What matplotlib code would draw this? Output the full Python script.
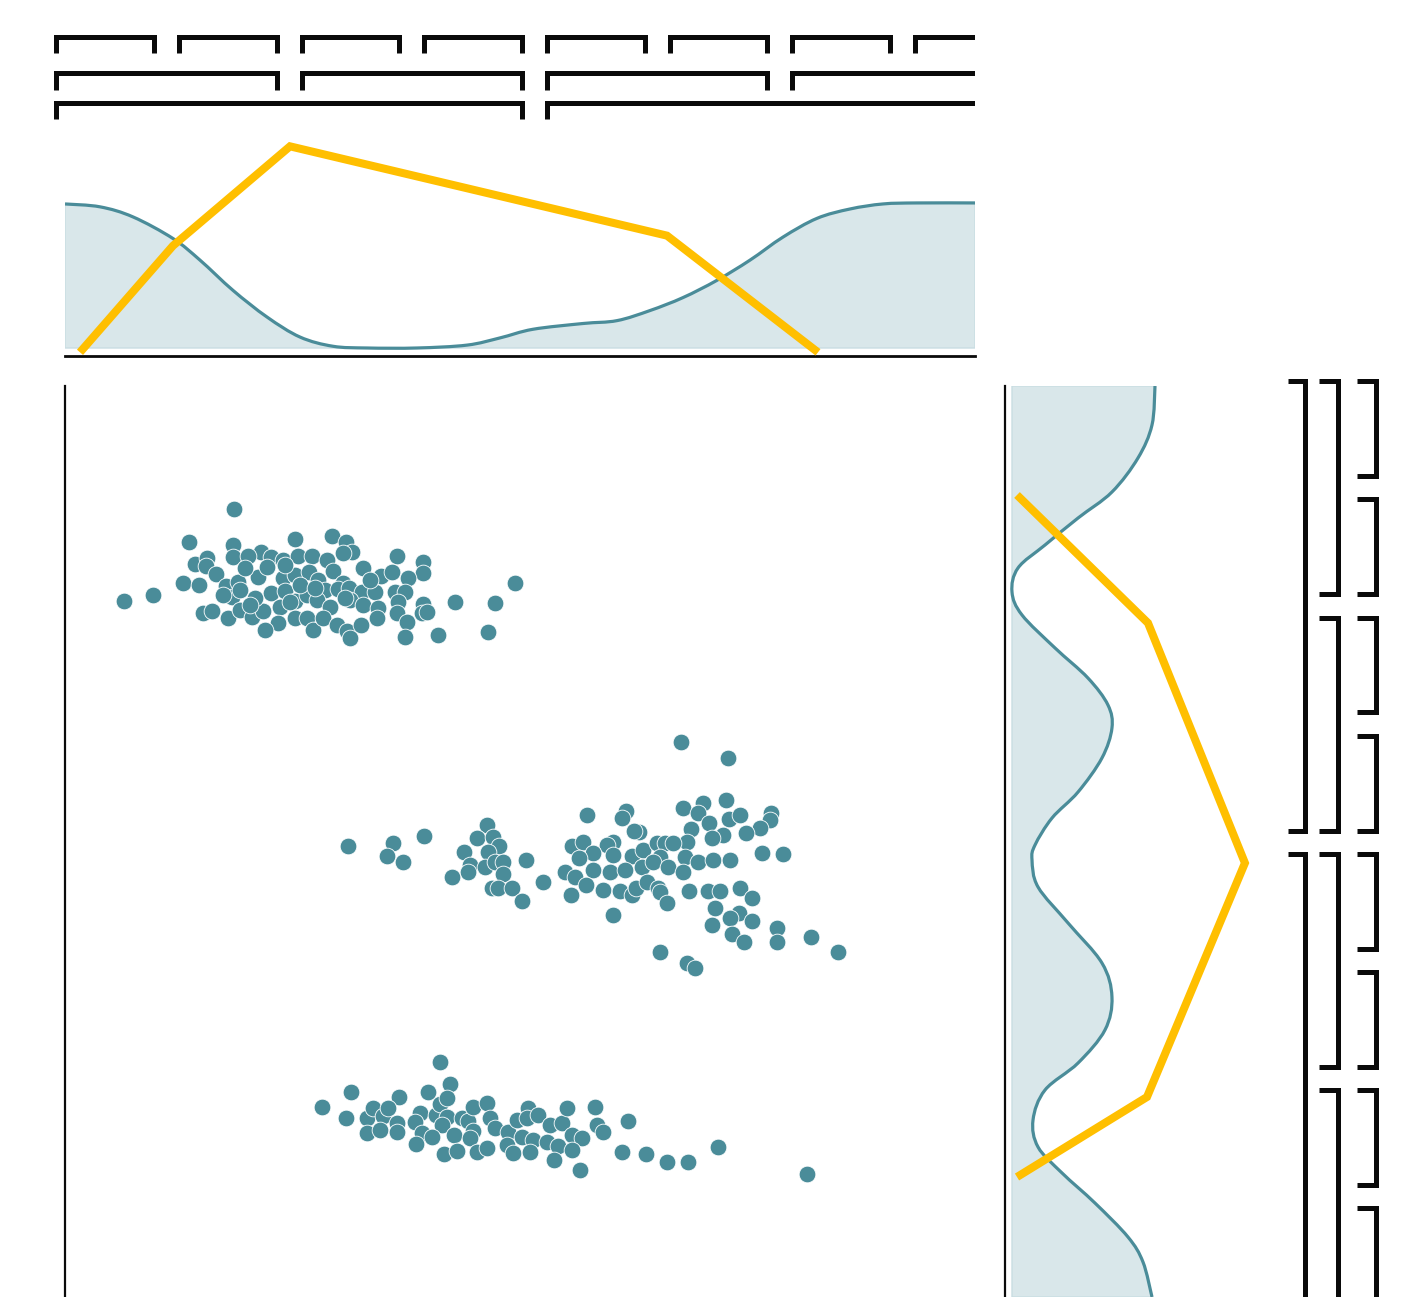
import matplotlib
matplotlib.use("Agg")
import matplotlib.pyplot as plt
from matplotlib.path import Path
from matplotlib.patches import PathPatch

# ---------------- data ----------------
# scatter clusters (x, y in data units)
cluster_a_x = [16.9, 12.4, 23.0, 26.7, 28.1, 28.7, 16.8, 16.8, 19.6, 18.3, 20.6, 21.8, 23.3, 24.7, 26.2, 27.8,
               33.2, 35.8, 35.8, 13.0, 14.2, 14.1, 15.1, 29.8, 31.6, 32.7, 34.3, 45.0, 11.8, 13.4, 8.8, 5.9,
               16.1, 17.3, 19.3, 20.2, 18.0, 21.8, 23.0, 24.4, 25.3, 26.8, 27.8, 26.0, 27.3, 28.4, 29.7, 31.0,
               33.0, 34.0, 16.7, 15.8, 20.6, 22.0, 23.0, 24.2, 25.2, 26.5, 28.5, 29.8, 31.3, 33.3, 35.8, 39.0,
               43.0, 13.8, 14.7, 16.3, 17.5, 18.7, 19.8, 21.5, 22.5, 21.3, 20.0, 23.0, 24.2, 24.8, 25.8, 27.2,
               28.2, 28.5, 29.6, 31.2, 33.2, 34.2, 35.7, 36.2, 34.0, 37.3, 42.3,
               17.5, 19.0, 23.5, 25.0, 28.0, 30.5, 22.0, 18.5]
cluster_a_y = [78.8, 75.5, 75.8, 76.1, 75.5, 74.5, 75.2, 74.0, 74.5, 74.1, 74.0, 73.7, 74.1, 74.1, 73.7, 74.4,
               74.1, 73.5, 72.4, 73.3, 73.9, 73.1, 72.3, 72.9, 72.1, 72.5, 71.9, 71.4, 71.4, 71.2, 70.2, 69.6,
               71.1, 71.5, 72.0, 73.0, 72.9, 71.9, 72.2, 72.5, 71.7, 72.6, 71.4, 70.7, 70.8, 70.9, 70.5, 70.5,
               70.5, 70.5, 70.0, 70.2, 70.4, 70.6, 69.6, 70.2, 69.7, 69.0, 69.7, 69.2, 68.9, 69.5, 69.3, 69.5,
               69.4, 68.4, 68.6, 67.9, 68.7, 68.0, 68.6, 69.0, 69.5, 67.4, 66.7, 67.9, 67.9, 66.7, 67.9, 67.2,
               66.6, 65.9, 67.2, 67.9, 68.4, 67.5, 68.4, 68.5, 66.0, 66.2, 66.5,
               70.7, 69.9, 71.2, 70.9, 69.9, 71.7, 73.2, 69.2]

cluster_b_x = [28.3, 32.8, 32.2, 33.8, 35.9, 42.2, 41.2, 42.8, 43.4, 42.3, 39.9, 40.5, 40.3, 42.0, 43.0, 43.8,
               43.8, 38.7, 42.7, 43.3, 44.7, 45.7, 46.1, 47.8, 50.6, 50.0, 50.7, 51.8, 51.0,
               61.6, 66.3, 52.2, 56.1, 55.7, 61.8, 63.8, 66.1, 63.3, 64.4, 66.4, 67.5, 70.6, 70.5, 69.5, 68.1,
               65.8, 64.7, 62.6, 62.2, 57.4, 56.9, 54.8, 54.2, 52.8, 54.8, 56.7, 57.8, 59.2, 60.0, 60.8, 59.5,
               62.0, 63.3, 64.8, 66.5, 69.7, 71.8, 51.4, 52.8, 54.5, 56.0, 57.7, 58.8, 60.3, 61.8, 52.1, 53.8,
               55.5, 56.7, 57.1, 58.2, 59.3, 59.5, 60.2, 54.8, 62.4, 64.3, 65.5, 67.5, 68.7, 65.0, 67.4, 66.5,
               68.7, 64.7, 66.7, 67.9, 71.2, 71.2, 74.6, 77.3, 59.5, 62.2, 63.0]
cluster_b_y = [45.1, 45.4, 44.1, 43.5, 46.1, 47.2, 45.9, 46.0, 45.1, 44.5, 44.5, 43.2, 42.5, 43.0, 43.5, 43.5,
               42.3, 42.0, 40.9, 40.9, 40.9, 39.6, 43.7, 41.5, 40.2, 42.5, 45.1, 45.5, 42.0,
               55.5, 53.9, 48.2, 48.6, 47.9, 48.9, 49.4, 49.7, 48.4, 47.4, 47.8, 48.2, 48.4, 47.7, 46.9, 46.4,
               46.2, 45.9, 46.8, 45.5, 46.5, 46.6, 45.5, 45.2, 44.4, 44.2, 44.1, 44.7, 45.4, 45.4, 45.4, 44.0,
               44.0, 43.5, 43.7, 43.7, 44.4, 44.3, 43.9, 42.7, 42.5, 42.7, 43.0, 43.5, 43.0, 42.5, 41.2, 40.7,
               40.6, 40.2, 40.9, 41.5, 40.9, 40.5, 39.4, 38.2, 40.6, 40.6, 40.6, 40.9, 39.9, 38.9, 38.4, 37.9,
               37.6, 37.2, 36.3, 35.5, 36.9, 35.5, 36.0, 34.5, 34.5, 33.4, 32.9]

cluster_c_x = [37.5, 38.5, 36.3, 28.6, 33.4, 25.7, 28.1, 30.2, 30.8, 31.8, 32.3, 33.2, 30.2, 31.5, 33.2, 35.5,
               35.0, 37.1, 37.5, 38.2, 38.2, 37.7, 35.7, 35.1, 36.7, 37.9, 38.9, 39.2, 39.7, 40.3, 40.8, 42.2,
               40.8, 40.5, 41.2, 42.2, 42.5, 43.0, 44.3, 44.2, 44.8, 45.2, 46.3, 46.2, 47.3, 45.7, 46.8, 46.5,
               48.5, 48.2, 49.3, 49.7, 50.2, 50.7, 51.7, 50.7, 48.9, 51.5, 53.0, 53.2, 53.8, 56.3, 55.7, 58.1,
               60.2, 62.3, 65.3, 74.2]
cluster_c_y = [23.5, 21.3, 20.5, 20.5, 20.0, 19.0, 17.9, 17.9, 18.9, 18.1, 18.9, 17.4, 16.4, 16.7, 16.5, 18.4,
               17.5, 18.2, 19.3, 19.9, 18.0, 17.2, 16.4, 15.3, 16.0, 14.3, 16.2, 14.6, 17.9, 17.6, 19.0, 19.4,
               16.6, 15.9, 14.5, 14.9, 17.9, 16.9, 16.5, 15.2, 14.4, 17.7, 18.9, 17.9, 18.2, 16.0, 15.7, 14.5,
               17.2, 15.5, 15.1, 17.4, 18.9, 16.2, 15.9, 14.7, 13.7, 12.7, 19.0, 17.2, 16.5, 17.6, 14.5, 14.3,
               13.5, 13.5, 15.0, 12.3]

# top marginal density (x in data units, relative height)
top_density_x = [0.0, 3.5, 6.8, 10.8, 13.5, 16.8, 20.2, 23.5, 26.8, 30.2, 35.2, 40.2, 43.5, 46.8, 51.8,
                 55.2, 58.5, 61.8, 65.2, 68.5, 71.8, 75.2, 78.5, 81.8, 85.2, 91.0]
top_density_h = [1.0, 0.98, 0.91, 0.76, 0.61, 0.40, 0.215, 0.076, 0.012, 0.0, 0.0, 0.02, 0.07, 0.13, 0.17,
                 0.19, 0.26, 0.35, 0.47, 0.61, 0.77, 0.90, 0.965, 1.0, 1.007, 1.007]

# top orange line
top_line_x = [1.5, 10.8, 22.5, 60.2, 75.3]
top_line_h = [-0.03, 0.71, 1.40, 0.78, -0.03]

# right marginal density (y in data units, relative width)
right_density_y = [91.1, 87.2, 83.9, 80.5, 77.9, 75.2, 72.9, 70.5, 68.2, 64.9, 61.9, 59.2, 56.9, 53.9, 50.5,
                   47.9, 45.2, 43.7, 41.0, 37.4, 33.4, 30.0, 26.7, 23.4, 20.7, 17.7, 15.0, 12.4, 9.4, 6.0,
                   3.5, 0.0]
right_density_w = [1.0, 0.979, 0.881, 0.699, 0.462, 0.231, 0.042, 0.0, 0.070, 0.301, 0.531, 0.671, 0.699,
                   0.629, 0.462, 0.280, 0.161, 0.140, 0.182, 0.392, 0.629, 0.699, 0.650, 0.462, 0.231, 0.147,
                   0.182, 0.350, 0.580, 0.811, 0.916, 0.979]

# right orange line
right_line_y = [80.2, 67.4, 43.4, 20.0, 12.0]
right_line_w = [0.035, 0.951, 1.629, 0.944, 0.035]

# bracket bin edges (data units)
top_bin_edges = [-0.9, 11.4, 23.7, 35.9, 48.2, 60.5, 72.7, 85.0, 97.2]
right_bin_edges = [91.65, 79.8, 67.95, 56.15, 44.3, 32.5, 20.7, 8.9, -2.9]
bracket_group_sizes = [1, 2, 4]

# ---------------- style ----------------
TEAL = "#4a8c99"
FILL = "#d9e7ea"
ORANGE = "#ffbf00"
INK = "#0a0a0a"

W, H = 1418, 1297
fig = plt.figure(figsize=(W / 100, H / 100), dpi=100)
fig.patch.set_facecolor("white")


def px_rect(x0, y0, x1, y1):
    return [x0 / W, 1 - y1 / H, (x1 - x0) / W, (y1 - y0) / H]


def clean(ax, keep=()):
    for side, sp in ax.spines.items():
        if side in keep:
            sp.set_color(INK)
            sp.set_linewidth(1.6)
        else:
            sp.set_visible(False)
    ax.set_xticks([])
    ax.set_yticks([])
    ax.patch.set_alpha(0)


def smooth_vertices(xs, ys):
    """Catmull-Rom curve through the given points, as cubic Bezier path vertices/codes."""
    pts = list(zip(xs, ys))
    n = len(pts)
    verts = [pts[0]]
    codes = [Path.MOVETO]
    for i in range(n - 1):
        p0 = pts[i - 1] if i > 0 else pts[i]
        p1 = pts[i]
        p2 = pts[i + 1]
        p3 = pts[i + 2] if i + 2 < n else pts[i + 1]
        c1 = (p1[0] + (p2[0] - p0[0]) / 6.0, p1[1] + (p2[1] - p0[1]) / 6.0)
        c2 = (p2[0] - (p3[0] - p1[0]) / 6.0, p2[1] - (p3[1] - p1[1]) / 6.0)
        verts += [c1, c2, p2]
        codes += [Path.CURVE4] * 3
    return verts, codes


def density_patches(ax, xs, ys, base_pts):
    verts, codes = smooth_vertices(xs, ys)
    fv = verts + base_pts + [verts[0]]
    fc = codes + [Path.LINETO] * len(base_pts) + [Path.CLOSEPOLY]
    ax.add_patch(PathPatch(Path(fv, fc), facecolor=FILL, edgecolor="#c9dde2", lw=1.0, zorder=1))
    ax.add_patch(PathPatch(Path(verts, codes), facecolor="none", edgecolor=TEAL, lw=2.3, zorder=2))


# main scatter
ax_main = fig.add_axes(px_rect(65, 386, 975, 1297))
ax_main.set_xlim(0, 91)
ax_main.set_ylim(0, 91.1)
clean(ax_main, keep=("left",))
for cx, cy in [(cluster_a_x, cluster_a_y), (cluster_b_x, cluster_b_y), (cluster_c_x, cluster_c_y)]:
    ax_main.scatter(cx, cy, s=145, color=TEAL, edgecolors="white", linewidths=0.6, zorder=3)

# top marginal
ax_top = fig.add_axes(px_rect(65, 140, 975, 356))
ax_top.set_xlim(0, 91)
ax_top.set_ylim(-0.0556, 1.444)
clean(ax_top, keep=("bottom",))
ax_top.spines["bottom"].set_linewidth(2.0)
density_patches(ax_top, top_density_x, top_density_h,
                [(top_density_x[-1], 0), (top_density_x[0], 0)])
ax_top.plot(top_line_x, top_line_h, color=ORANGE, lw=5.8, solid_capstyle="butt",
            solid_joinstyle="miter", clip_on=False, zorder=4)

# right marginal
ax_right = fig.add_axes(px_rect(1005, 386, 1270, 1297))
ax_right.set_xlim(-7 / 143, 258 / 143)
ax_right.set_ylim(0, 91.1)
clean(ax_right, keep=("left",))
density_patches(ax_right, right_density_w, right_density_y,
                [(0, right_density_y[-1]), (0, right_density_y[0])])
ax_right.plot(right_line_w, right_line_y, color=ORANGE, lw=5.8, solid_capstyle="butt",
              solid_joinstyle="miter", clip_on=False, zorder=4)

# top brackets
ax_tb = fig.add_axes(px_rect(53, 25, 975, 125))
ax_tb.set_xlim(-1.2, 91.0)
ax_tb.set_ylim(125, 25)
clean(ax_tb)
row_line_y = [36.5, 72.5, 102.5]
row_leg_y = [53, 90, 119]
top_gap = 2.45
for level, k in enumerate(bracket_group_sizes):
    for i in range(0, len(top_bin_edges) - 1, k):
        a = top_bin_edges[i]
        b = top_bin_edges[min(i + k, len(top_bin_edges) - 1)] - top_gap
        ax_tb.plot([a, a, b, b], [row_leg_y[level], row_line_y[level], row_line_y[level], row_leg_y[level]],
                   color=INK, lw=3.6, solid_capstyle="butt", solid_joinstyle="miter")

# right brackets
ax_rb = fig.add_axes(px_rect(1280, 370, 1418, 1297))
ax_rb.set_xlim(1280, 1418)
ax_rb.set_ylim(0, 92.7)
clean(ax_rb)
col_line_x = {4: 1305, 2: 1338, 1: 1375.5}
col_hook_x = {4: 1288, 2: 1319, 1: 1357}
right_gap = 2.35
for k in bracket_group_sizes:
    for i in range(0, len(right_bin_edges) - 1, k):
        a = right_bin_edges[i]
        b = right_bin_edges[min(i + k, len(right_bin_edges) - 1)] + right_gap
        xl, xh = col_line_x[k], col_hook_x[k]
        ax_rb.plot([xh, xl, xl, xh], [a, a, b, b], color=INK, lw=3.6,
                   solid_capstyle="butt", solid_joinstyle="miter")

fig.savefig("out.png", dpi=100)
